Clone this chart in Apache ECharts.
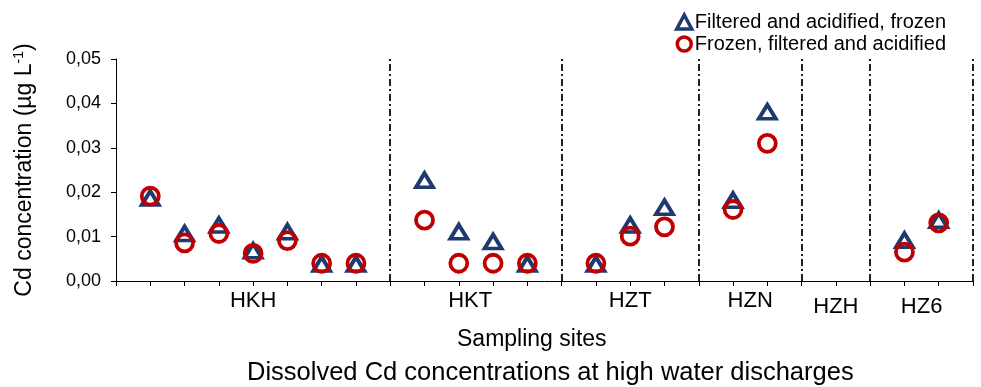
<!DOCTYPE html>
<html lang="en">
<head>
    <meta charset="UTF-8">
    <title>Dissolved Cd concentrations</title>
    <script src="https://cdn.jsdelivr.net/npm/echarts@6/dist/echarts.min.js"></script>
    <style>
        html, body { margin: 0; padding: 0; background: #fff; }
        #chart { width: 981px; height: 387px; }
    </style>
</head>
<body onload="setup()">
    <div id="chart"></div>
    <script>
        // sample positions along the x axis (one unit per sample, dividers between sites)
        var samplePos = [1, 2, 3, 4, 5, 6, 7, 9, 10, 11, 12, 14, 15, 16, 18, 19, 23, 24]
        var filteredFrozen = [0.0187, 0.0107, 0.0126, 0.0068, 0.0111, 0.0038, 0.0038,
            0.0227, 0.0111, 0.0089, 0.0038,
            0.0038, 0.0126, 0.0166,
            0.0182, 0.0381,
            0.0092, 0.0137]
        var frozenFiltered = [0.0191, 0.0086, 0.0107, 0.0062, 0.0091, 0.0040, 0.0040,
            0.0137, 0.0040, 0.0040, 0.0040,
            0.0040, 0.0101, 0.0122,
            0.0161, 0.0310,
            0.0065, 0.0131]
        var sites = ['HKH', 'HKT', 'HZT', 'HZN', 'HZH', 'HZ6']
        var siteCenter = [4, 10.333, 15, 18.5, 21, 23.5]   // snapped to sixths of a unit on the label axis
        var dividers = [8, 13, 17, 20, 22, 25]
        var yTicks = [0, 0.01, 0.02, 0.03, 0.04, 0.05]

        var chart
        function setup() {
            chart = echarts.init(document.getElementById('chart'))
            chart.setOption(buildOption())
        }

        function pairs(ys) {
            return ys.map(function (y, i) { return [samplePos[i], y] })
        }

        function siteLabel(v) {
            var k = Math.round(v * 6)
            for (var i = 0; i < sites.length; i++) {
                if (Math.round(siteCenter[i] * 6) === k) {
                    if (sites[i] === 'HZH' || sites[i] === 'HZ6') return '{lo|' + sites[i] + '}'
                    return sites[i]
                }
            }
            return ''
        }

        function buildOption() {
            var font = 'Liberation Sans, Arial, sans-serif'
            return {
                animation: false,
                textStyle: { fontFamily: font, color: '#000' },
                title: [
                    { text: 'Sampling sites', left: 457, top: 328, padding: 0,
                      textStyle: { fontFamily: font, fontSize: 23, fontWeight: 'normal', color: '#000' } },
                    { text: 'Dissolved Cd concentrations at high water discharges', left: 247, top: 360, padding: 0,
                      textStyle: { fontFamily: font, fontSize: 25.5, fontWeight: 'normal', color: '#000' } }
                ],
                legend: {
                    orient: 'vertical',
                    left: 675,
                    top: 12,
                    itemWidth: 15,
                    itemHeight: 14,
                    itemGap: 2,
                    padding: 0,
                    itemStyle: { borderWidth: 3.5 },
                    textStyle: { fontFamily: font, fontSize: 20, color: '#000', padding: [0, 0, 0, -2] },
                    data: ['Filtered and acidified, frozen', 'Frozen, filtered and acidified']
                },
                grid: { left: 116, right: 8, top: 59, bottom: 106 },
                xAxis: [{
                    type: 'value',
                    min: 0,
                    max: 25,
                    interval: 1,
                    axisLine: { show: true, lineStyle: { color: '#000', width: 1 } },
                    axisTick: { show: true, inside: false, length: 5, lineStyle: { color: '#000' } },
                    axisLabel: { show: false },
                    splitLine: { show: false }
                }, {
                    type: 'value',
                    position: 'bottom',
                    min: 0,
                    max: 25,
                    interval: 1 / 6,
                    axisLine: { show: false },
                    axisTick: { show: false },
                    splitLine: { show: false },
                    axisLabel: {
                        show: true,
                        margin: 9,
                        fontFamily: font,
                        fontSize: 22,
                        color: '#000',
                        formatter: siteLabel,
                        rich: { lo: { fontFamily: font, fontSize: 22, color: '#000', padding: [6, 0, 0, 0] } }
                    }
                }],
                yAxis: {
                    type: 'value',
                    min: yTicks[0],
                    max: yTicks[yTicks.length - 1],
                    interval: 0.01,
                    name: '{a|Cd concentration (µg L}{s|-1}{a|)}',
                    nameLocation: 'middle',
                    nameGap: 78,
                    nameRotate: 90,
                    nameTextStyle: {
                        rich: {
                            a: { fontFamily: font, fontSize: 23, color: '#000', lineHeight: 26 },
                            s: { fontFamily: font, fontSize: 14, color: '#000', verticalAlign: 'top', lineHeight: 26 }
                        }
                    },
                    axisLine: { show: true, lineStyle: { color: '#000', width: 1 } },
                    axisTick: { show: true, inside: false, length: 5, lineStyle: { color: '#000' } },
                    axisLabel: {
                        margin: 15,
                        fontFamily: font,
                        fontSize: 18,
                        color: '#000',
                        formatter: function (v) { return v.toFixed(2).replace('.', ',') }
                    },
                    splitLine: { show: false }
                },
                series: [{
                    name: 'Filtered and acidified, frozen',
                    type: 'scatter',
                    symbol: 'triangle',
                    symbolSize: [17, 14],
                    itemStyle: { color: 'rgba(0,0,0,0)', borderColor: '#1F3A6E', borderWidth: 3.8, opacity: 1 },
                    data: pairs(filteredFrozen),
                    markLine: {
                        silent: true,
                        symbol: 'none',
                        label: { show: false },
                        lineStyle: { color: '#222', width: 2, type: [7, 3, 2, 3] },
                        data: dividers.map(function (d) { return { xAxis: d } })
                    }
                }, {
                    name: 'Frozen, filtered and acidified',
                    type: 'scatter',
                    symbol: 'circle',
                    symbolSize: 17,
                    itemStyle: { color: 'rgba(0,0,0,0)', borderColor: '#C00000', borderWidth: 3.8, opacity: 1 },
                    data: pairs(frozenFiltered)
                }]
            }
        }
    </script>
</body>
</html>
